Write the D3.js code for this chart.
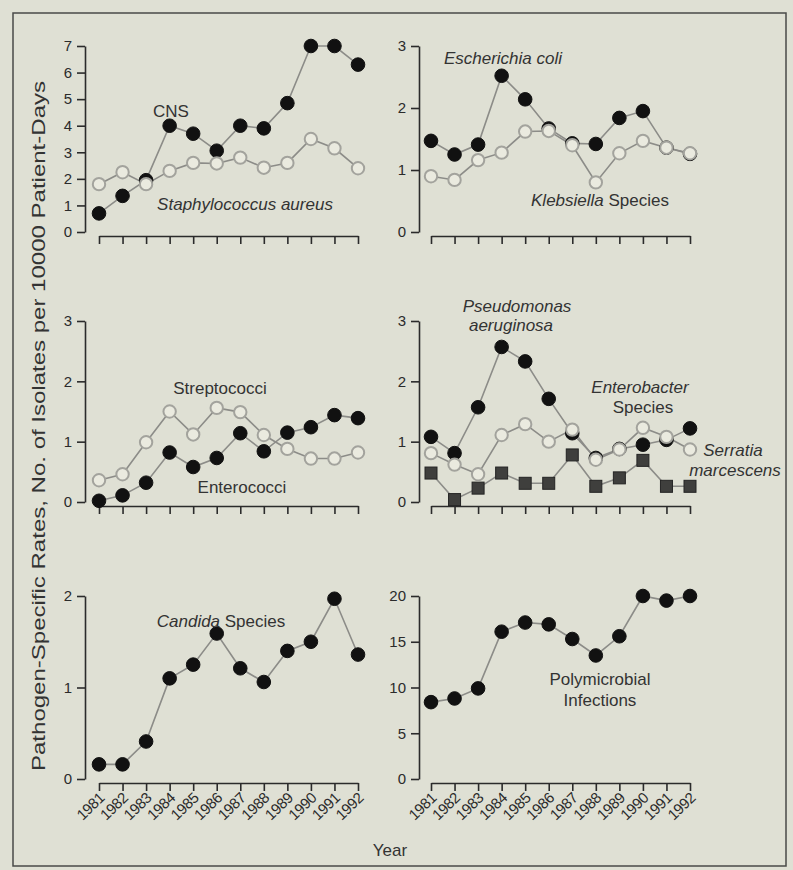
<!DOCTYPE html>
<html>
<head>
<meta charset="utf-8">
<script src="https://cdn.jsdelivr.net/npm/d3@7"></script>
<style>
  body { margin: 0; background: #dfe0d4; }
  svg { display: block; font-family: "Liberation Sans", Arial, sans-serif; }
</style>
</head>
<body>
<svg id="chart" width="793" height="870"></svg>
<script>
// values, one per year
const years = [1981, 1982, 1983, 1984, 1985, 1986, 1987, 1988, 1989, 1990, 1991, 1992];

const cns         = [0.7, 1.36, 1.95, 4.0, 3.7, 3.06, 4.0, 3.9, 4.85, 7.0, 7.0, 6.3];
const staphAureus = [1.8, 2.25, 1.8, 2.3, 2.6, 2.58, 2.8, 2.42, 2.6, 3.5, 3.15, 2.4];

const eColi      = [1.47, 1.25, 1.41, 2.52, 2.14, 1.67, 1.43, 1.42, 1.84, 1.95, 1.36, 1.26];
const klebsiella = [0.9, 0.84, 1.16, 1.28, 1.62, 1.63, 1.4, 0.8, 1.27, 1.47, 1.36, 1.27];

const streptococci = [0.36, 0.46, 0.99, 1.5, 1.12, 1.56, 1.49, 1.11, 0.88, 0.72, 0.72, 0.82];
const enterococci  = [0.02, 0.11, 0.32, 0.82, 0.58, 0.73, 1.14, 0.84, 1.15, 1.24, 1.44, 1.39];

const pseudomonas  = [1.08, 0.81, 1.57, 2.57, 2.33, 1.71, 1.14, 0.73, 0.88, 0.95, 1.03, 1.22];
const enterobacter = [0.81, 0.62, 0.46, 1.11, 1.29, 1.0, 1.2, 0.7, 0.87, 1.23, 1.08, 0.87];
const serratia     = [0.48, 0.04, 0.23, 0.48, 0.31, 0.31, 0.78, 0.26, 0.4, 0.69, 0.26, 0.26];

const candida       = [0.16, 0.16, 0.41, 1.1, 1.25, 1.59, 1.21, 1.06, 1.4, 1.5, 1.97, 1.36];
const polymicrobial = [8.4, 8.8, 9.9, 16.1, 17.1, 16.9, 15.3, 13.5, 15.6, 20.0, 19.5, 20.0];

const ticks7 = [0, 1, 2, 3, 4, 5, 6, 7];
const ticks3 = [0, 1, 2, 3];
const ticks2 = [0, 1, 2];
const ticks20 = [0, 5, 10, 15, 20];

// layout
const cols = [
  { axisX: 85, x0: 99, x1: 358 },
  { axisX: 419, x0: 431, x1: 690 }
];
const rows = [
  { y0: 232, y1: 46 },
  { y0: 502, y1: 321 },
  { y0: 779, y1: 596 }
];

const panels = [
  { col: 0, row: 0, max: 7, ticks: ticks7,
    series: [{ values: cns, kind: "filled" }, { values: staphAureus, kind: "open" }],
    labels: [
      { x: 171, y: 117, parts: [["CNS", false]] },
      { x: 245, y: 210, parts: [["Staphylococcus aureus", true]] }
    ] },
  { col: 1, row: 0, max: 3, ticks: ticks3,
    series: [{ values: eColi, kind: "filled" }, { values: klebsiella, kind: "open" }],
    labels: [
      { x: 503, y: 64, parts: [["Escherichia coli", true]] },
      { x: 600, y: 206, parts: [["Klebsiella", true], [" Species", false]] }
    ] },
  { col: 0, row: 1, max: 3, ticks: ticks3,
    series: [{ values: enterococci, kind: "filled" }, { values: streptococci, kind: "open" }],
    labels: [
      { x: 220, y: 394, parts: [["Streptococci", false]] },
      { x: 242, y: 493, parts: [["Enterococci", false]] }
    ] },
  { col: 1, row: 1, max: 3, ticks: ticks3,
    series: [{ values: serratia, kind: "square" }, { values: pseudomonas, kind: "filled" }, { values: enterobacter, kind: "open" }],
    labels: [
      { x: 517, y: 312, parts: [["Pseudomonas", true]] },
      { x: 511, y: 331, parts: [["aeruginosa", true]] },
      { x: 640, y: 393, parts: [["Enterobacter", true]] },
      { x: 643, y: 413, parts: [["Species", false]] },
      { x: 733, y: 456, parts: [["Serratia", true]] },
      { x: 735, y: 476, parts: [["marcescens", true]] }
    ] },
  { col: 0, row: 2, max: 2, ticks: ticks2,
    series: [{ values: candida, kind: "filled" }],
    labels: [
      { x: 221, y: 627, parts: [["Candida", true], [" Species", false]] }
    ] },
  { col: 1, row: 2, max: 20, ticks: ticks20,
    series: [{ values: polymicrobial, kind: "filled" }],
    labels: [
      { x: 600, y: 685, parts: [["Polymicrobial", false]] },
      { x: 600, y: 706, parts: [["Infections", false]] }
    ] }
];

const svg = d3.select("#chart");

// page frame
svg.append("rect")
  .attr("x", 13).attr("y", 13)
  .attr("width", 773).attr("height", 853)
  .attr("fill", "none")
  .attr("stroke", "#4a4a48")
  .attr("stroke-width", 1.5);

const inkColor = "#2b2b2b";
const lineColor = "#8c8c88";
const intFormat = d3.format("d");

panels.forEach(p => {
  const c = cols[p.col], r = rows[p.row];
  const x = d3.scaleLinear().domain([years[0], years[years.length - 1]]).range([c.x0, c.x1]);
  const y = d3.scaleLinear().domain([0, p.max]).range([r.y0, r.y1]);
  const g = svg.append("g");

  // y axis
  const yAxis = g.append("g")
    .attr("transform", `translate(${c.axisX},0)`)
    .call(d3.axisLeft(y).tickValues(p.ticks).tickFormat(intFormat)
      .tickSize(8).tickSizeOuter(0).tickPadding(5));
  yAxis.selectAll("path, line").attr("stroke", inkColor).attr("stroke-width", 1.6);
  yAxis.selectAll("text").attr("fill", inkColor).style("font-size", "15px");

  // x axis
  const xAxis = g.append("g")
    .attr("transform", `translate(0,${r.y0 + 4})`)
    .call(d3.axisBottom(x).tickValues(years).tickFormat(intFormat)
      .tickSize(8).tickSizeOuter(0));
  xAxis.selectAll("path, line").attr("stroke", inkColor).attr("stroke-width", 1.6);
  if (p.row === 2) {
    xAxis.selectAll("text")
      .attr("x", 0).attr("y", 0).attr("dy", 0)
      .attr("text-anchor", "end")
      .attr("transform", "translate(6,16) rotate(-44)")
      .attr("fill", inkColor)
      .style("font-family", "'Liberation Sans Narrow', 'Liberation Sans', Arial, sans-serif")
      .style("font-size", "15px")
      .style("letter-spacing", "-0.4px");
  } else {
    xAxis.selectAll("text").remove();
  }

  const line = d3.line().x((d, i) => x(years[i])).y(d => y(d));

  // connecting lines first, markers on top
  p.series.forEach(s => {
    g.append("path")
      .datum(s.values)
      .attr("d", line)
      .attr("fill", "none")
      .attr("stroke", lineColor)
      .attr("stroke-width", 1.6);
  });

  p.series.forEach(s => {
    const pts = g.append("g").selectAll(s.kind === "square" ? "rect" : "circle")
      .data(s.values)
      .join(s.kind === "square" ? "rect" : "circle");
    if (s.kind === "square") {
      pts.attr("x", (d, i) => x(years[i]) - 6)
        .attr("y", d => y(d) - 6)
        .attr("width", 12).attr("height", 12)
        .attr("fill", "#3f3f3d")
        .attr("stroke", "#242424")
        .attr("stroke-width", 1);
    } else {
      pts.attr("cx", (d, i) => x(years[i]))
        .attr("cy", d => y(d))
        .attr("r", s.kind === "filled" ? 6.8 : 6.2)
        .attr("fill", s.kind === "filled" ? "#111" : "#eaeadf")
        .attr("stroke", s.kind === "filled" ? "#111" : "#a3a39d")
        .attr("stroke-width", s.kind === "filled" ? 1 : 2);
    }
  });

  // series names
  p.labels.forEach(l => {
    const t = g.append("text")
      .attr("x", l.x).attr("y", l.y)
      .attr("text-anchor", "middle")
      .attr("fill", "#333")
      .style("font-size", "17px");
    l.parts.forEach(([txt, ital]) => {
      t.append("tspan").text(txt).style("font-style", ital ? "italic" : "normal");
    });
  });
});

// shared titles
svg.append("text")
  .attr("transform", "translate(45,426) rotate(-90)")
  .attr("text-anchor", "middle")
  .attr("fill", "#333")
  .attr("textLength", 690)
  .attr("lengthAdjust", "spacingAndGlyphs")
  .style("font-size", "18px")
  .text("Pathogen-Specific Rates, No. of Isolates per 10000 Patient-Days");

svg.append("text")
  .attr("x", 390).attr("y", 856)
  .attr("text-anchor", "middle")
  .attr("fill", "#333")
  .style("font-size", "17px")
  .text("Year");
</script>
</body>
</html>
